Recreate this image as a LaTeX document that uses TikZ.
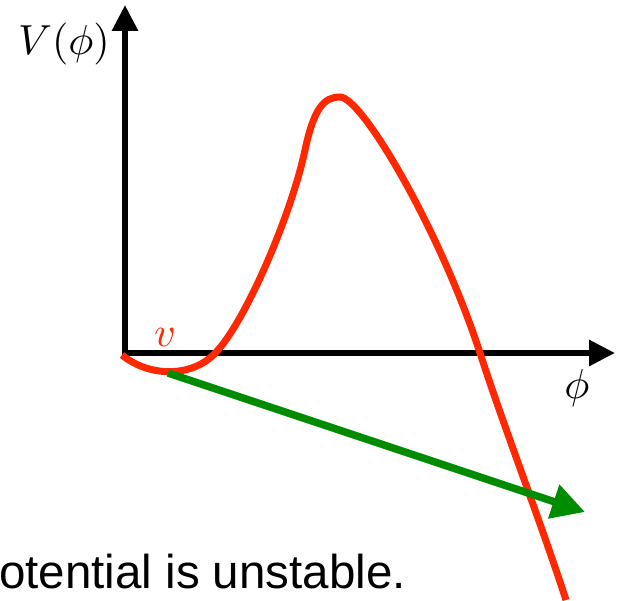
\documentclass[tikz,border=0pt]{standalone}
\usepackage{graphicx}
\usepackage{fontspec}
\newfontfamily\helv{Liberation Sans}
\usetikzlibrary{arrows.meta}
\definecolor{curvered}{RGB}{255,40,0}
\definecolor{arrowgreen}{RGB}{0,140,0}
\tikzset{
  axisline/.style={line width=6pt, draw=black, -{Triangle[length=26pt,width=25pt]}},
  potcurve/.style={line width=7pt, draw=curvered},
  slopearrow/.style={line width=7.5pt, draw=arrowgreen, -{Triangle[length=33pt,width=34pt]}},
  mathlabel/.style={inner sep=0pt}
}
\begin{document}
\begin{tikzpicture}[x=1pt,y=-1pt]
\useasboundingbox (0,0) rectangle (623,601);
\coordinate (O) at (125,353);
\coordinate (ytip) at (125,5);
\coordinate (xtip) at (615,353);
\coordinate (vbot) at (125,356);
\coordinate (xleft) at (122,353);
\draw[axisline] (vbot) -- (ytip);
\draw[axisline] (xleft) -- (xtip);
\node[mathlabel] (Vlab) at (64,44) {\scalebox{4.2}{$V(\phi)$}};
\node[mathlabel] (philab) at (577,388) {\scalebox{4.2}{$\phi$}};
\node[mathlabel, text=curvered] (vlab) at (165,337) {\scalebox{4.2}{$v$}};
\coordinate (c0) at (122,355);
\coordinate (c1) at (218,350);
\coordinate (kink) at (305,150);
\coordinate (peak) at (340,97);
\coordinate (cross) at (480,353);
\coordinate (cend) at (566,600);
\draw[potcurve, line cap=butt] (c0) .. controls (150,378) and (195,378) .. (c1)
  .. controls (248,316) and (292,212) .. (kink)
  .. controls (314,108) and (324,97) .. (peak)
  .. controls (362,97) and (440,230) .. (cross)
  .. controls (505,430) and (540,520) .. (cend);
\coordinate (gstart) at (168,373);
\coordinate (gtip) at (585,512);
\draw[slopearrow] (gstart) -- (gtip);
\node[anchor=base west, inner sep=0pt, font=\helv\fontsize{47.5}{56}\selectfont] (caption) at (-1,588) {otential is unstable.};
\end{tikzpicture}
\end{document}
